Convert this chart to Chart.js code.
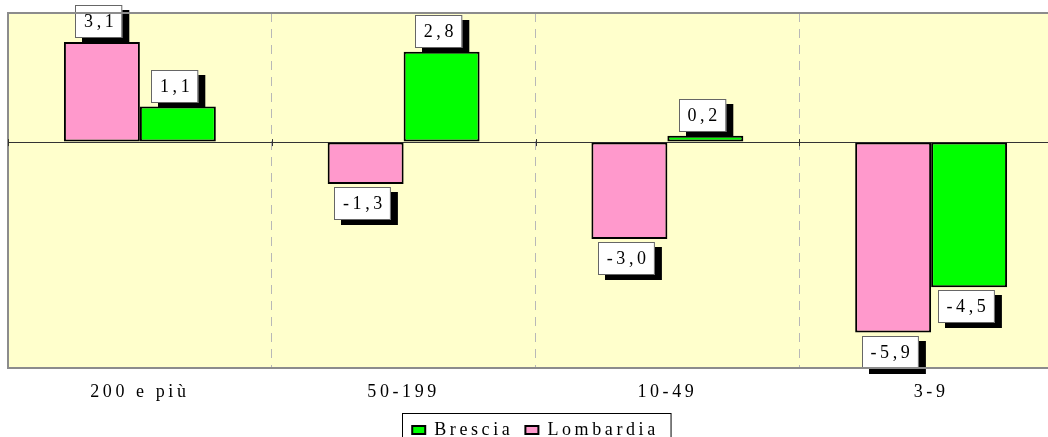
<!DOCTYPE html>
<html>
<head>
<meta charset="utf-8">
<script src="https://cdn.jsdelivr.net/npm/chart.js@4/dist/chart.umd.min.js"></script>
<style>
  html, body { margin: 0; padding: 0; background: #fff; overflow: hidden; }
  #wrap { width: 1066px; height: 449px; }
</style>
</head>
<body>
<div id="wrap"><canvas id="chart"></canvas></div>
<script>
const categories = ["200 e più", "50-199", "10-49", "3-9"];
const lombardia = [3.1, -1.3, -3.0, -5.9];
const brescia = [1.1, 2.8, 0.2, -4.5];
const yMin = -7;
const yMax = 4;

const FONT = '"Liberation Serif", "Times New Roman", serif';
const SPACING = 3.6;

// stretched look of the original text + plot background and frame
const framePlugin = {
  id: "frame",
  beforeLayout(chart) { chart.ctx.letterSpacing = SPACING + "px"; },
  beforeDraw(chart) {
    const ctx = chart.ctx;
    const a = chart.chartArea;
    ctx.letterSpacing = SPACING + "px";
    ctx.save();
    ctx.fillStyle = "#FFFFCC";
    ctx.fillRect(a.left, a.top, a.right - a.left, a.bottom - a.top);
    ctx.restore();
  },
  afterDraw(chart) {
    const ctx = chart.ctx;
    const a = chart.chartArea;
    ctx.save();
    ctx.strokeStyle = "#8c8c8c";
    ctx.lineWidth = 2;
    ctx.beginPath();
    ctx.moveTo(a.right + 5, a.top);
    ctx.lineTo(a.left, a.top);
    ctx.lineTo(a.left, a.bottom);
    ctx.lineTo(a.right + 5, a.bottom);
    ctx.stroke();

    // small ticks on the zero line
    const y0 = chart.scales.y.getPixelForValue(0);
    const step = (a.right - a.left) / categories.length;
    ctx.strokeStyle = "#333";
    ctx.lineWidth = 1;
    for (let i = 0; i <= categories.length; i++) {
      const x = Math.round(a.left + i * step) + 0.5;
      ctx.beginPath();
      ctx.moveTo(x, y0 - 3);
      ctx.lineTo(x, y0 + 4);
      ctx.stroke();
    }

    // legend frame
    const hb = chart.legend.legendHitBoxes;
    if (hb && hb.length) {
      const left = hb[0].left - 10;
      const last = hb[hb.length - 1];
      const right = last.left + last.width + 12;
      const top = hb[0].top - 8;
      ctx.strokeStyle = "#000";
      ctx.lineWidth = 1;
      ctx.strokeRect(Math.round(left) + 0.5, Math.round(top) + 0.5, right - left, 40);
    }
    ctx.restore();
  }
};

const labelPlugin = {
  id: "valueLabels",
  afterDatasetsDraw(chart) {
    const ctx = chart.ctx;
    ctx.save();
    ctx.font = "18px " + FONT;
    ctx.letterSpacing = SPACING + "px";
    chart.data.datasets.forEach((ds, i) => {
      const meta = chart.getDatasetMeta(i);
      meta.data.forEach((bar, j) => {
        const v = ds.data[j];
        const txt = v.toFixed(1).replace(".", ",");
        const w = ctx.measureText(txt).width + 14;
        const h = 33;
        const cx = bar.x - 3;
        const x = Math.round(cx - w / 2);
        const y = Math.round(v >= 0 ? bar.y - 4 - h : bar.y + 3);
        ctx.fillStyle = "#000";
        ctx.fillRect(x + 7, y + 5, w, h);
        ctx.fillStyle = "#fff";
        ctx.fillRect(x, y, w, h);
        ctx.strokeStyle = "#666";
        ctx.lineWidth = 1;
        ctx.strokeRect(x + 0.5, y + 0.5, w - 1, h - 1);
        ctx.fillStyle = "#000";
        ctx.textAlign = "center";
        ctx.textBaseline = "middle";
        ctx.fillText(txt, cx + SPACING / 2, y + h / 2 + 1);
      });
    });
    ctx.restore();
  }
};

new Chart(document.getElementById("chart"), {
  type: "bar",
  data: {
    labels: categories,
    datasets: [
      {
        label: "Lombardia",
        data: lombardia,
        backgroundColor: "#FF99CC",
        borderColor: "#000",
        borderWidth: 2,
        borderSkipped: false
      },
      {
        label: "Brescia",
        data: brescia,
        backgroundColor: "#00FF00",
        borderColor: "#000",
        borderWidth: 2,
        borderSkipped: false
      }
    ]
  },
  options: {
    responsive: true,
    maintainAspectRatio: false,
    animation: false,
    layout: { padding: { left: 8, top: 13, right: 3, bottom: 0 } },
    datasets: { bar: { barPercentage: 1, categoryPercentage: 0.576 } },
    scales: {
      x: {
        afterFit(scale) { scale.height = 41; },
        grid: {
          color: "#b8b8b8",
          lineWidth: 1,
          drawTicks: false
        },
        border: { display: true, color: "#8c8c8c", width: 2, dash: [9, 7] },
        ticks: {
          color: "#000",
          padding: 22,
          font: { family: FONT, size: 18, lineHeight: 0.2 }
        }
      },
      y: {
        min: yMin,
        max: yMax,
        ticks: { display: false, stepSize: 1 },
        grid: {
          drawTicks: false,
          color: (c) => (c.tick && c.tick.value === 0 ? "#333" : "rgba(0,0,0,0)"),
          lineWidth: 1
        },
        border: { display: true, color: "#8c8c8c", width: 2 }
      }
    },
    plugins: {
      legend: {
        position: "bottom",
        reverse: true,
        labels: {
          color: "#000",
          boxWidth: 13,
          boxHeight: 8,
          padding: 12,
          font: { family: FONT, size: 18 }
        }
      },
      tooltip: { enabled: false }
    }
  },
  plugins: [framePlugin, labelPlugin]
});
</script>
</body>
</html>
